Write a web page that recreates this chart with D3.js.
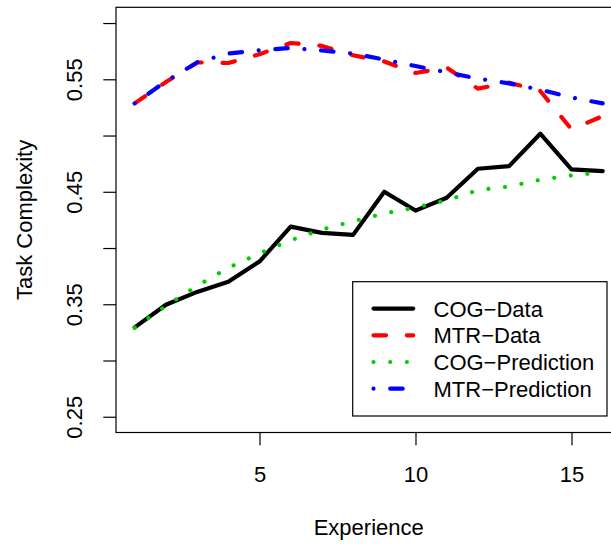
<!DOCTYPE html>
<html>
<head>
<meta charset="utf-8">
<script src="https://cdn.jsdelivr.net/npm/d3@7"></script>
<style>
  html, body { margin: 0; padding: 0; background: #ffffff; }
  svg { display: block; }
  text { font-family: "Liberation Sans", Arial, Helvetica, sans-serif; fill: #000; }
</style>
</head>
<body>
<svg id="chart" width="611" height="544"></svg>
<script>
// ---- data ----
const experience = [1, 2, 3, 4, 5, 6, 7, 8, 9, 10, 11, 12, 13, 14, 15, 16];
const cogData = [0.3294, 0.3496, 0.3610, 0.3700, 0.3880, 0.4190, 0.4135, 0.4117, 0.4500, 0.4333, 0.4447, 0.4705, 0.4728, 0.5016, 0.4699, 0.4684];
const mtrData = [0.5286, 0.5475, 0.5650, 0.5645, 0.5723, 0.5823, 0.5797, 0.5714, 0.5658, 0.5556, 0.5604, 0.5417, 0.5470, 0.5396, 0.5055, 0.5172];
const cogPred = [0.3294, 0.3485, 0.3663, 0.3824, 0.3952, 0.4069, 0.4164, 0.4238, 0.4307, 0.4360, 0.4425, 0.4514, 0.4547, 0.4607, 0.4645, 0.4672];
const mtrPred = [0.5286, 0.5482, 0.5650, 0.5729, 0.5758, 0.5779, 0.5756, 0.5729, 0.5675, 0.5618, 0.5562, 0.5506, 0.5464, 0.5407, 0.5338, 0.5286];
const seriesNames = ["COG\u2212Data", "MTR\u2212Data", "COG\u2212Prediction", "MTR\u2212Prediction"];
const seriesColors = ["#000000", "#ff0000", "#00cd00", "#0000ff"];
const xTicks = [5, 10, 15];
const yTicks = [0.25, 0.30, 0.35, 0.40, 0.45, 0.50, 0.55, 0.60];
const yTickLabels = ["0.25", "", "0.35", "", "0.45", "", "0.55", ""];
const xLim = [1, 16];
const yLim = [0.25, 0.60];
const xTitle = "Experience";
const yTitle = "Task Complexity";

// ---- layout ----
const plot = { left: 116, right: 621.4, top: 7.3, bottom: 432.5 };
const fontSize = 22;
const lw = 4.17;
const dashes = [null, `${3 * lw} ${5 * lw}`, `0.01 ${4 * lw}`, `0.01 ${4 * lw} ${3 * lw} ${4 * lw}`];

const xPad = (xLim[1] - xLim[0]) * 0.04;
const yPad = (yLim[1] - yLim[0]) * 0.04;
const x = d3.scaleLinear().domain([xLim[0] - xPad, xLim[1] + xPad]).range([plot.left, plot.right]);
const y = d3.scaleLinear().domain([yLim[0] - yPad, yLim[1] + yPad]).range([plot.bottom, plot.top]);

const svg = d3.select("#chart");
svg.append("rect").attr("width", 611).attr("height", 544).attr("fill", "#fff");

// series lines
const series = [cogData, mtrData, cogPred, mtrPred];
const line = d3.line().x((d, i) => x(experience[i])).y(d => y(d));
series.forEach((vals, k) => {
  const p = svg.append("path")
    .attr("d", line(vals))
    .attr("fill", "none")
    .attr("stroke", seriesColors[k])
    .attr("stroke-width", lw)
    .attr("stroke-linecap", "round")
    .attr("stroke-linejoin", "round");
  if (dashes[k]) p.attr("stroke-dasharray", dashes[k]);
});

// plot box (right side falls outside the image)
svg.append("rect")
  .attr("x", plot.left).attr("y", plot.top)
  .attr("width", plot.right - plot.left).attr("height", plot.bottom - plot.top)
  .attr("fill", "none").attr("stroke", "#000").attr("stroke-width", 1.2);

// x axis
const xAxis = d3.axisBottom(x).tickValues(xTicks).tickSize(12.7).tickFormat(d3.format("d"));
const gx = svg.append("g").attr("transform", `translate(0,${plot.bottom})`).call(xAxis);
gx.select(".domain").remove();
gx.selectAll(".tick line").attr("stroke", "#000").attr("stroke-width", 1.2);
gx.selectAll(".tick text")
  .attr("y", 49.2).attr("dy", null)
  .attr("font-size", fontSize)
  .attr("font-family", "'Liberation Sans', Arial, sans-serif");

// y axis
const yAxis = d3.axisLeft(y).tickValues(yTicks).tickSize(12.7).tickFormat((d, i) => yTickLabels[i]);
const gy = svg.append("g").attr("transform", `translate(${plot.left},0)`).call(yAxis);
gy.select(".domain").remove();
gy.selectAll(".tick line").attr("stroke", "#000").attr("stroke-width", 1.2);
gy.selectAll(".tick text")
  .attr("x", null).attr("dy", null)
  .attr("text-anchor", "middle")
  .attr("transform", `translate(${81.6 - plot.left},0) rotate(-90)`)
  .attr("font-size", fontSize)
  .attr("font-family", "'Liberation Sans', Arial, sans-serif");

// axis titles
svg.append("text")
  .attr("x", (plot.left + plot.right) / 2).attr("y", 535)
  .attr("text-anchor", "middle").attr("font-size", fontSize)
  .text(xTitle);
svg.append("text")
  .attr("transform", `translate(32.3,${(plot.top + plot.bottom) / 2}) rotate(-90)`)
  .attr("text-anchor", "middle").attr("font-size", fontSize)
  .text(yTitle);

// legend
const leg = { x0: 352.7, y0: 281.7, x1: 607, y1: 416 };
svg.append("rect")
  .attr("x", leg.x0).attr("y", leg.y0)
  .attr("width", leg.x1 - leg.x0).attr("height", leg.y1 - leg.y0)
  .attr("fill", "#fff").attr("stroke", "#000").attr("stroke-width", 1.2);
const rowY = d3.scaleLinear().domain([0, 1]).range([308.6, 335.3]);
seriesNames.forEach((name, k) => {
  const cy = rowY(k);
  const l = svg.append("line")
    .attr("x1", 373.5).attr("x2", 413.2)
    .attr("y1", cy).attr("y2", cy)
    .attr("stroke", seriesColors[k]).attr("stroke-width", lw)
    .attr("stroke-linecap", "round");
  if (dashes[k]) l.attr("stroke-dasharray", dashes[k]);
  svg.append("text")
    .attr("x", 433.5).attr("y", cy + 8.1)
    .attr("font-size", fontSize)
    .text(name);
});
</script>
</body>
</html>
